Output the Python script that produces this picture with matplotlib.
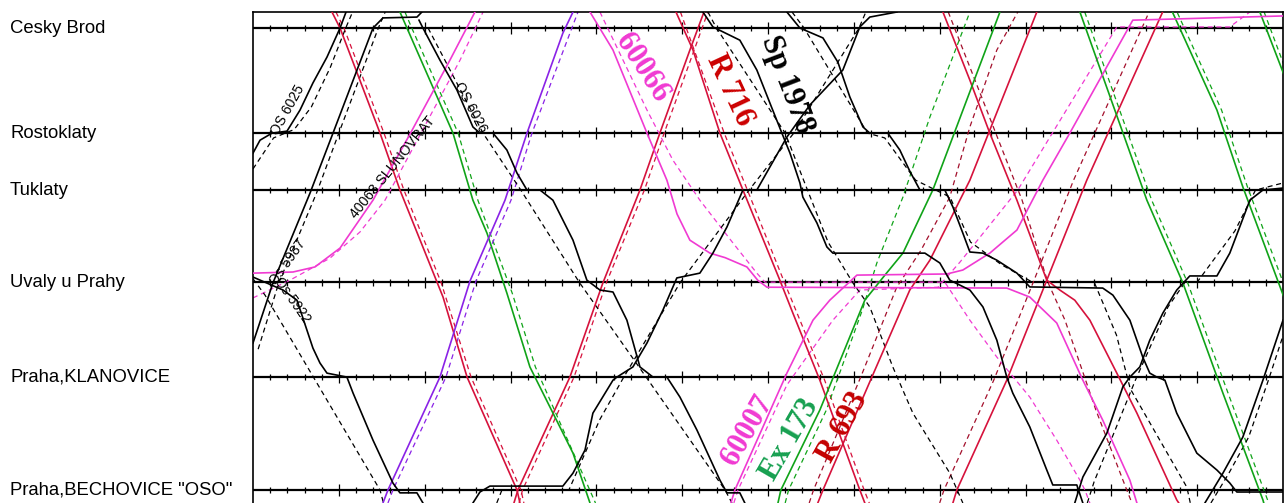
import matplotlib
matplotlib.use("Agg")
import matplotlib.pyplot as plt
import matplotlib.transforms as mtransforms
import numpy as np

# Stations (km from Praha-Bechovice)
stations = ["Cesky Brod", "Rostoklaty", "Tuklaty", "Uvaly u Prahy",
            "Praha,KLANOVICE", 'Praha,BECHOVICE "OSO"']
station_km = [16.4, 12.67, 10.65, 7.38, 4.01, 0.0]

# Train paths as (minute, km); *_plan = dashed planned path
r1 = [(4.6, 16.97), (5.07, 16.4), (7.4, 12.67), (8.56, 10.65), (10.72, 7.38), (11.07, 6.85),
      (12.47, 4.01), (15.38, 0), (15.55, -0.46)]
r1_plan = [(4.83, 16.97), (5.3, 16.4), (7.63, 12.67), (8.79, 10.65), (10.95, 7.38), (12.7, 4.01),
           (15.61, 0), (15.78, -0.46)]
r2 = [(15.2, -0.46), (15.43, 0), (18.46, 4.01), (20.38, 7.35), (22.54, 10.65), (23.7, 12.67),
      (25.45, 15.62), (26.27, 16.97)]
r2_plan = [(15.5, -0.46), (15.7, 0), (18.7, 4.01), (20.6, 7.38), (22.8, 10.65), (23.95, 12.67),
           (26.5, 16.97)]
r716 = [(24.64, 16.97), (25.63, 15.62), (27.2, 12.67), (28.54, 10.65), (30.69, 7.45), (31.45, 6.28),
        (33.02, 3.9), (35.35, 0), (35.64, -0.46)]
r716_plan = [(24.9, 16.97), (27.45, 12.67), (28.8, 10.65), (30.95, 7.38), (33.3, 3.9), (35.6, 0),
             (35.9, -0.46)]
r693 = [(32.9, -0.46), (33.2, 0), (36.05, 4.01), (38.26, 7.1), (39.43, 8.16), (41.76, 11.0),
        (45.66, 16.97)]
r693_plan = [(32.4, -0.46), (32.65, 0), (35.4, 4.01), (37.5, 7.2), (38.9, 8.5), (40.59, 10.4),
             (41.76, 12.89), (43.33, 15.62), (44.55, 16.97)]
r5 = [(40.19, 16.97), (41.76, 14.55), (42.92, 12.67), (44.5, 10.29), (46.24, 7.45), (47.0, 7.1),
      (47.87, 6.74), (48.75, 6.03), (50.32, 4.15), (51.49, 2.73), (53.81, -0.35), (53.93, -0.46)]
r5_plan = [(40.5, 16.97), (44.8, 10.29), (46.3, 7.38), (47.3, 6.03), (49.1, 2.84), (50.9, 0),
           (51.2, -0.46)]
r6 = [(40.77, -0.46), (41.0, 0), (43.91, 3.9), (46.24, 7.45), (48.57, 11.0), (52.99, 16.97)]
r6_plan = [(40.0, -0.46), (40.25, 0), (43.15, 3.9), (45.5, 7.45), (47.8, 11.0), (52.2, 16.97)]

g1 = [(8.56, 16.97), (8.97, 16.4), (11.65, 12.67), (12.81, 10.29), (13.63, 9.12), (14.79, 6.99),
      (16.13, 4.37), (18.64, 1.31), (19.63, -0.46)]
g1_plan = [(8.85, 16.97), (9.25, 16.4), (11.95, 12.67), (13.1, 10.29), (15.1, 6.99), (16.45, 4.37),
           (19.95, -0.46)]
ex173 = [(30.58, -0.46), (30.75, 0), (33.02, 2.84), (35.64, 6.74), (36.81, 7.63), (37.86, 8.41),
         (39.6, 10.65), (43.51, 16.97)]
ex173_plan = [(31.0, -0.46), (31.2, 0), (33.4, 2.84), (35.5, 6.4), (36.34, 8.06), (37.86, 10.4),
              (39.43, 13.24), (41.76, 16.97)]
g3 = [(48.17, 16.97), (52.07, 10.29), (54.17, 7.35), (56.5, 3.44), (58.83, -0.35), (58.88, -0.46)]
g3_plan = [(48.45, 16.97), (52.35, 10.29), (54.45, 7.35), (56.8, 3.44), (59.1, -0.35), (59.15, -0.46)]
g4 = [(58.65, 16.97), (60.4, 14.2)]
g4_plan = [(58.9, 16.97), (60.6, 14.2)]
g5 = [(53.58, 16.94), (56.15, 13.49), (57.66, 10.76), (60.4, 6.28)]
g5_plan = [(53.85, 16.94), (56.42, 13.49), (57.93, 10.76), (60.6, 6.4)]

m40063 = [(0, 7.7), (2.33, 7.74), (3.61, 7.92), (5.07, 8.59), (6.99, 10.29), (9.14, 12.63),
          (11.47, 15.26), (12.93, 16.97)]
m40063_plan = [(0, 6.82), (2.15, 7.45), (4.48, 8.23), (6.23, 9.16), (7.69, 10.29), (12.06, 15.26),
               (13.4, 16.97)]
m60066 = [(19.63, 16.97), (20.97, 15.62), (22.95, 12.67), (24.11, 11.0), (24.7, 9.8), (25.45, 8.87),
          (26.62, 8.41), (27.5, 8.25), (28.77, 7.92), (29.4, 7.45), (29.94, 7.2), (43.91, 7.17),
          (45.25, 6.85), (46.82, 5.93), (48.34, 3.9), (49.5, 2.48), (51.08, 0.35), (51.49, -0.46)]
m60066_plan = [(20.21, 16.97), (22.95, 13.49), (24.46, 11.71), (26.03, 10.29), (27.96, 8.77),
               (29.35, 7.7), (29.82, 7.38), (40.3, 7.38), (41.76, 6.03), (43.33, 4.72), (45.25, 3.3),
               (46.82, 1.77), (48.17, 0.35), (48.46, 0), (48.75, -0.46)]
m60007 = [(27.84, -0.46), (28.07, 0), (31.1, 4.15), (32.62, 6.03), (33.6, 6.74), (35.18, 7.63),
          (40.42, 7.67), (41.35, 7.81), (42.92, 8.41), (44.5, 9.23), (46.01, 11.0), (47.58, 12.67),
          (51.25, 16.68), (60.0, 16.83)]
m60007_plan = [(28.01, -0.46), (28.25, 0), (31.1, 3.73), (33.78, 6.03), (35.35, 7.1), (39.9, 7.2),
               (41.18, 8.09), (42.92, 9.41), (44.55, 10.65), (50.32, 16.44), (56.9, 16.44),
               (58.07, 16.97)]

p1 = [(7.57, -0.46), (7.86, 0), (10.89, 4.01), (12.64, 7.42), (14.68, 10.29), (15.96, 12.67),
      (18.05, 16.22), (18.64, 16.97)]
p1_plan = [(7.86, -0.46), (8.15, 0), (11.24, 4.01), (12.99, 7.42), (15.03, 10.29), (16.25, 12.67),
           (18.93, 16.97)]

os6025 = [(0, 11.96), (0.41, 12.42), (1.11, 12.67), (1.98, 12.74), (2.74, 13.49), (3.49, 14.45),
          (4.31, 15.37), (5.07, 16.4), (5.42, 16.97)]
os6025_plan = [(0, 11.4), (1.2, 12.5), (2.4, 12.8), (3.4, 13.6), (4.5, 15.0), (5.4, 16.4), (5.8, 16.97)]
os5987 = [(0, 5.22), (1.16, 7.35), (3.32, 10.54), (4.66, 12.67), (6.99, 16.4), (7.57, 16.76),
          (9.55, 16.79), (9.84, 16.97)]
os5987_plan = [(0.3, 5.0), (1.5, 7.35), (3.7, 10.54), (5.0, 12.67), (7.3, 16.4), (7.7, 16.97)]
os6026 = [(9.67, 16.68), (9.9, 16.4), (10.89, 15.26), (11.88, 14.2), (12.81, 12.89), (13.22, 12.67),
          (13.98, 12.67), (14.79, 12.07), (15.38, 11.25), (15.96, 10.65), (16.72, 10.65),
          (17.47, 10.29), (18.64, 8.87), (19.45, 7.45), (20.21, 7.1), (20.97, 7.03), (21.78, 6.03),
          (22.54, 4.37), (23.3, 4.01), (24.11, 4.01), (24.87, 3.3), (25.86, 2.13), (27.2, 0.35),
          (27.61, -0.1), (28.36, -0.1), (28.65, -0.46)]
os6026_plan = [(10.2, 16.4), (13.4, 12.67), (15.6, 10.65), (19.0, 7.38), (22.9, 4.01), (27.5, 0),
               (27.9, -0.46)]
os5922 = [(0, 7.56), (1.75, 7.1), (2.56, 6.74), (3.49, 5.04), (3.9, 4.51), (4.31, 4.15), (5.47, 4.01),
          (5.83, 3.44), (6.99, 1.77), (8.15, 0.25), (8.56, -0.1), (9.55, -0.1), (9.9, -0.46)]
os5922_plan = [(0, 7.5), (0.7, 6.92), (7.4, 0), (7.6, -0.46)]
os_b5 = [(12.81, -0.46), (13.22, -0.07), (13.8, 0.14), (18.05, 0.14), (18.64, 0.6), (19.34, 1.42),
         (19.8, 2.73), (20.97, 3.9), (21.2, 4.01), (22.13, 4.37), (22.95, 5.22), (23.88, 6.39),
         (24.69, 7.53), (26.03, 7.7), (26.79, 8.41), (27.61, 9.34), (28.54, 10.65), (29.35, 10.65),
         (31.1, 12.53), (32.44, 13.67), (34.36, 14.91), (35.35, 16.44), (35.93, 16.79), (37.51, 16.97)]
os_b5_plan = [(14.2, -0.46), (14.5, 0), (18.4, 0.0), (20.2, 2.5), (21.6, 4.01), (24.9, 7.38),
              (28.9, 10.65), (31.5, 12.67), (35.3, 16.4), (35.7, 16.97)]
sp1978 = [(26.21, 16.97), (26.79, 16.44), (28.36, 15.97), (29.35, 14.91), (30.11, 13.74),
          (30.81, 12.67), (31.28, 11.96), (31.86, 10.9), (32.03, 10.4), (32.85, 9.48), (33.43, 8.63),
          (33.78, 8.41), (39.14, 8.41), (40.01, 8.06), (40.59, 7.45), (41.76, 7.1), (42.52, 6.5),
          (43.33, 5.32), (43.91, 4.01), (44.26, 3.44), (45.25, 2.24), (46.24, 0.71), (46.59, 0.18),
          (47.99, 0.18), (48.34, -0.46)]
sp1978_plan = [(26.5, 16.97), (27.0, 16.4), (31.0, 12.67), (32.3, 10.65), (33.5, 8.8), (34.95, 7.35),
               (35.93, 6.5), (37.27, 4.37), (38.44, 2.73), (40.59, 0.6), (41.35, -0.46)]
os_b8 = [(31.1, 16.97), (31.86, 16.4), (33.2, 16.05), (34.07, 15.19), (34.77, 13.95), (35.53, 12.89),
         (35.93, 12.67), (36.98, 12.67), (37.68, 12.07), (38.26, 11.32), (38.85, 10.65), (40.3, 10.65),
         (40.77, 10.05), (41.35, 9.12), (41.76, 8.45), (42.52, 8.41), (43.33, 8.16), (44.5, 7.7),
         (45.25, 7.21), (49.5, 7.17), (50.09, 6.92), (51.08, 6.03), (51.83, 4.72), (52.24, 4.15),
         (52.65, 4.01), (53.12, 3.9), (53.81, 2.73), (54.98, 1.31), (56.15, 0.71), (56.9, 0.25),
         (57.31, -0.07), (60, -0.07)]
os_b8_plan = [(31.4, 16.97), (32.1, 16.4), (35.8, 12.67), (36.8, 12.5), (38.6, 11.0), (40.6, 10.4),
              (41.8, 8.8), (43.6, 8.0), (45.4, 7.38), (49.0, 7.38), (50.3, 5.5), (51.1, 3.6),
              (54.4, 0.1), (54.6, -0.46)]
os_b11 = [(47.87, -0.46), (48.34, 0.46), (49.74, 2.02), (50.67, 3.66), (51.08, 4.01), (51.66, 4.37),
          (52.24, 5.32), (53.0, 6.28), (53.81, 7.1), (54.57, 7.6), (56.15, 7.6), (56.9, 8.41),
          (57.48, 9.34), (58.07, 10.29), (58.83, 10.65), (60, 10.72)]
os_b11_plan = [(48.6, -0.46), (49.0, 0.3), (51.4, 3.9), (53.3, 6.5), (54.3, 7.38), (55.0, 7.38),
               (57.2, 9.2), (58.4, 10.65), (60, 10.9)]
os_b10 = [(55.45, -0.46), (56.5, 0.6), (57.66, 1.88), (58.83, 3.9), (60.0, 6.03)]
os_b10_plan = [(55.8, -0.46), (56.85, 0.6), (58.0, 1.88), (59.15, 3.9), (60.3, 6.03)]

RED = "#d6123c"
DARKRED = "#a3102c"
GREEN = "#10a318"
MAGENTA = "#f03ad2"
PURPLE = "#8a22e6"
BLACK = "#000000"

solid = [
    (r1, RED), (r2, RED), (r716, RED), (r693, RED), (r5, RED), (r6, RED),
    (g1, GREEN), (ex173, GREEN), (g3, GREEN), (g4, GREEN), (g5, GREEN),
    (m40063, MAGENTA), (m60066, MAGENTA), (m60007, MAGENTA), (p1, PURPLE),
    (os6025, BLACK), (os5987, BLACK), (os6026, BLACK), (os5922, BLACK), (os_b5, BLACK),
    (sp1978, BLACK), (os_b8, BLACK), (os_b11, BLACK), (os_b10, BLACK),
]
planned = [
    (r1_plan, RED), (r2_plan, RED), (r716_plan, RED), (r693_plan, DARKRED), (r5_plan, DARKRED),
    (r6_plan, DARKRED),
    (g1_plan, GREEN), (ex173_plan, GREEN), (g3_plan, GREEN), (g4_plan, GREEN), (g5_plan, GREEN),
    (m40063_plan, MAGENTA), (m60066_plan, MAGENTA), (m60007_plan, MAGENTA), (p1_plan, PURPLE),
    (os6025_plan, BLACK), (os5987_plan, BLACK), (os6026_plan, BLACK), (os5922_plan, BLACK),
    (os_b5_plan, BLACK), (sp1978_plan, BLACK), (os_b8_plan, BLACK), (os_b11_plan, BLACK),
    (os_b10_plan, BLACK),
]

fig = plt.figure(figsize=(12.88, 5.03), dpi=100)
ax = fig.add_axes([253 / 1288, 0, 1030 / 1288, 491 / 503])
ax.set_xlim(0, 60)
ax.set_ylim(-0.46, 16.97)
ax.set_xticks([])
ax.set_yticks([])
ax.spines["bottom"].set_visible(False)
for s in ["left", "right", "top"]:
    ax.spines[s].set_linewidth(1.2)

# station lines with minute ticks
ax.hlines(station_km, 0, 60, color="black", lw=1.6, zorder=1)
minutes = np.arange(1, 60)
for km in station_km:
    h = np.where(minutes % 5 == 0, 0.2, 0.12)
    ax.vlines(minutes, km - h, km + h, color="black", lw=0.9, zorder=1)

for pts, c in planned:
    t, k = zip(*pts)
    ax.plot(t, k, color=c, lw=0.9, ls=(0, (4, 3)), zorder=2)
for pts, c in solid:
    t, k = zip(*pts)
    ax.plot(t, k, color=c, lw=1.2, zorder=3)

# station names
trans = mtransforms.blended_transform_factory(fig.transFigure, ax.transData)
for name, km in zip(stations, station_km):
    ax.text(10 / 1288, km, name, transform=trans, fontsize=13.3, family="Liberation Sans",
            va="center", ha="left", clip_on=False)

# train labels
big = dict(fontsize=22, fontweight="bold", family="Liberation Serif", ha="center", va="center",
           rotation_mode="anchor", zorder=4)
ax.text(22.65, 14.98, "60066", rotation=-57, color=MAGENTA, **big)
ax.text(27.78, 14.2, "R 716", rotation=-65, color="#cc0000", **big)
ax.text(31.1, 14.38, "Sp 1978", rotation=-69, color="black", **big)
ax.text(28.83, 2.13, "60007", rotation=60, color=MAGENTA, **big)
ax.text(31.28, 1.77, "Ex 173", rotation=60, color="#17a050", **big)
ax.text(34.36, 2.24, "R 693", rotation=61, color="#c40000", **big)

small = dict(fontsize=10, family="Liberation Sans", ha="center", va="center",
             rotation_mode="anchor", zorder=4, color="black")
ax.text(2.04, 13.49, "OS 6025", rotation=61, **small)
ax.text(12.64, 13.6, "OS 6026", rotation=-62, **small)
ax.text(8.15, 11.47, "40063 SLUNOVRAT", rotation=51, **small)
ax.text(2.04, 8.09, "Os 5987", rotation=55, **small)
ax.text(2.27, 6.74, "Os 5922", rotation=-55, **small)

fig.savefig("out.png", dpi=100)
